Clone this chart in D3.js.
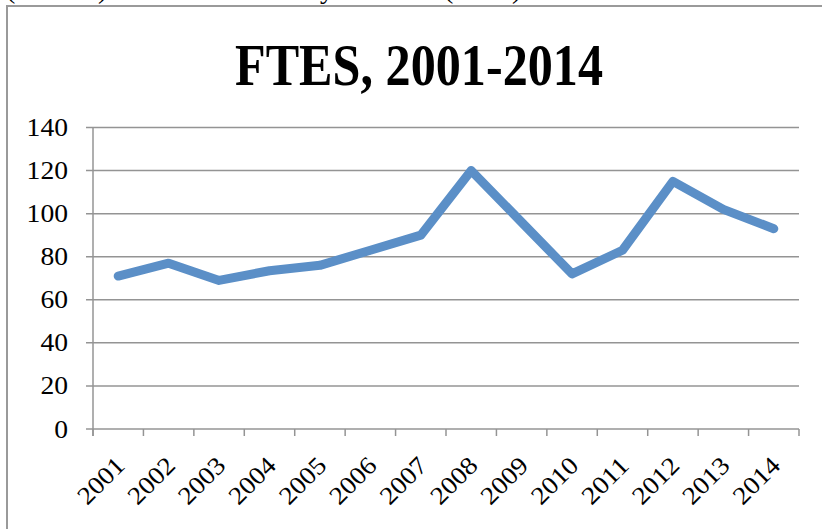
<!DOCTYPE html>
<html>
<head>
<meta charset="utf-8">
<script src="https://cdn.jsdelivr.net/npm/d3@7"></script>
<style>
  html, body { margin: 0; padding: 0; background: #fff; }
  svg { display: block; }
</style>
</head>
<body>
<div id="chart"></div>
<script>
const years = ['2001','2002','2003','2004','2005','2006','2007','2008','2009','2010','2011','2012','2013','2014']
const ftes = [71, 77, 69, 73.5, 76, 83, 90, 120, 96, 72, 83, 115, 102, 93]
const yTicks = [0, 20, 40, 60, 80, 100, 120, 140]
const title = 'FTES, 2001-2014'

const width = 822, height = 529
const plot = { left: 93, right: 799, top: 127.5, bottom: 429 }
const digitW = 13.8 // labels in the reference are a bit wider than Liberation Serif

const svg = d3.select('#chart').append('svg')
    .attr('width', width)
    .attr('height', height)

// bits of the line of text above the chart, cut off by the top edge
const cut = svg.append('g')
    .attr('font-family', 'Liberation Serif')
    .attr('font-size', 28)
    .attr('fill', '#000')
;[['(', 6], [')', 98], ['y', 320], ['(', 444], [')', 512]].forEach(d => {
    cut.append('text').attr('x', d[1]).attr('y', -2).text(d[0])
})

// chart frame
svg.append('rect')
    .attr('x', 7).attr('y', 6)
    .attr('width', 830).attr('height', 540)
    .attr('fill', 'none')
    .attr('stroke', '#9a9a9a')
    .attr('stroke-width', 2)

svg.append('text')
    .attr('x', 419)
    .attr('y', 85)
    .attr('text-anchor', 'middle')
    .attr('font-family', 'Liberation Serif')
    .attr('font-weight', 'bold')
    .attr('font-size', 60)
    .attr('textLength', 368)
    .attr('lengthAdjust', 'spacingAndGlyphs')
    .text(title)

const x = d3.scaleBand()
    .domain(years)
    .range([plot.left, plot.right])
    .padding(0)

const y = d3.scaleLinear()
    .domain([0, 140])
    .range([plot.bottom, plot.top])

// gridlines with left tick marks
svg.append('g')
    .selectAll('line')
    .data(yTicks)
    .join('line')
    .attr('x1', plot.left - 7)
    .attr('x2', plot.right)
    .attr('y1', d => y(d))
    .attr('y2', d => y(d))
    .attr('stroke', '#949494')
    .attr('stroke-width', 1.5)

svg.append('g')
    .selectAll('text')
    .data(yTicks)
    .join('text')
    .attr('x', 68)
    .attr('y', d => y(d))
    .attr('dy', '0.34em')
    .attr('text-anchor', 'end')
    .attr('font-family', 'Liberation Serif')
    .attr('font-size', 25)
    .attr('textLength', d => String(d).length * digitW)
    .attr('lengthAdjust', 'spacingAndGlyphs')
    .attr('fill', '#000')
    .text(d => d)

// y axis line
svg.append('line')
    .attr('x1', plot.left).attr('x2', plot.left)
    .attr('y1', plot.top).attr('y2', plot.bottom + 7)
    .attr('stroke', '#949494')
    .attr('stroke-width', 1.5)

// x tick marks at category boundaries
const edges = years.map(d => x(d)).concat([plot.right])
svg.append('g')
    .selectAll('line')
    .data(edges)
    .join('line')
    .attr('x1', d => d).attr('x2', d => d)
    .attr('y1', plot.bottom).attr('y2', plot.bottom + 7)
    .attr('stroke', '#949494')
    .attr('stroke-width', 1.5)

svg.append('g')
    .selectAll('text')
    .data(years)
    .join('text')
    .attr('transform', d => `translate(${x(d) + x.bandwidth() / 2 + 8},${plot.bottom + 38}) rotate(-45)`)
    .attr('text-anchor', 'end')
    .attr('font-family', 'Liberation Serif')
    .attr('font-size', 25)
    .attr('textLength', d => d.length * digitW)
    .attr('lengthAdjust', 'spacingAndGlyphs')
    .attr('fill', '#000')
    .text(d => d)

const line = d3.line()
    .x((d, i) => x(years[i]) + x.bandwidth() / 2)
    .y(d => y(d))

svg.append('path')
    .datum(ftes)
    .attr('d', line)
    .attr('fill', 'none')
    .attr('stroke', '#5b8fc7')
    .attr('stroke-width', 9)
    .attr('stroke-linecap', 'round')
    .attr('stroke-linejoin', 'round')
</script>
</body>
</html>
